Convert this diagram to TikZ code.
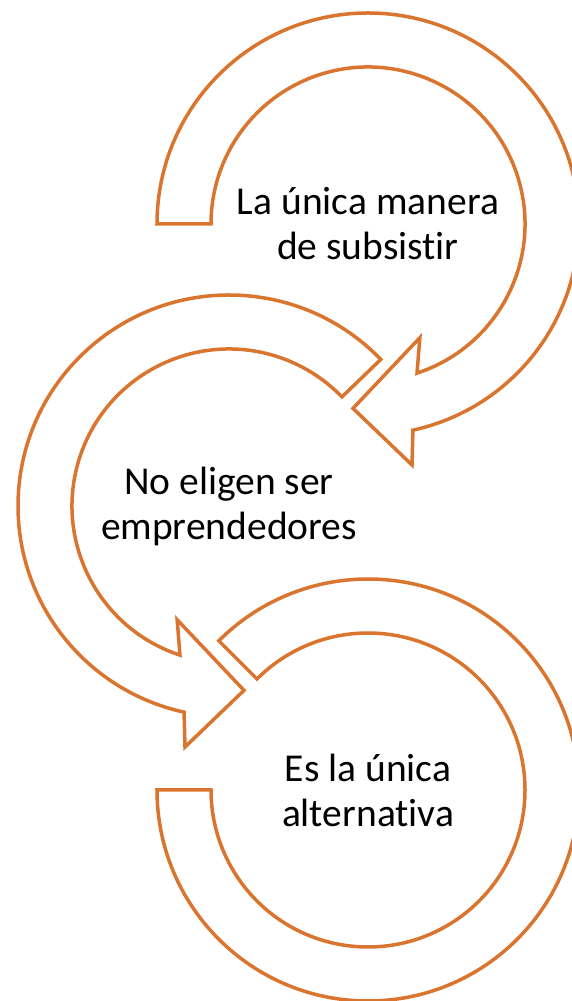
\documentclass[tikz,border=0pt]{standalone}
\usepackage{fontspec}
\setmainfont{Carlito}[Ligatures=NoCommon]
\usepackage{tikz}
\usetikzlibrary{positioning}
\definecolor{arrowOrange}{RGB}{218,117,47}

\begin{document}
\begin{tikzpicture}[x=1pt, y=1pt,
    cyclearrow/.style={draw=arrowOrange, fill=white, line width=3.5pt, line join=miter},
    steptext/.style={align=center, font=\fontsize{39.5}{45}\selectfont, text=black}
  ]
    \useasboundingbox (0,0) rectangle (572,1001);
    \clip (0,0) rectangle (572,1001);

    % Top arrow (clockwise, head bottom left)
    \begin{scope}[shift={(368,777)}]
      \draw[cyclearrow] (180:211) arc[start angle=180, end angle=-77.7, radius=211pt]
        -- (-79.65:245) -- (-94.66:185) -- (-65.5:125) -- (-71.8:157)
        arc[start angle=-71.8, end angle=180, radius=157pt] -- cycle;
      \node[steptext] (Subsistir) at (0,0) {La única manera\\de subsistir};
    \end{scope}

    % Middle arrow (counter clockwise, head bottom right)
    \begin{scope}[shift={(229,495)}]
      \draw[cyclearrow] (44:211) arc[start angle=44, end angle=257.7, radius=211pt]
        -- (259.65:245) -- (274.66:185) -- (245.5:125) -- (251.8:157)
        arc[start angle=251.8, end angle=44, radius=157pt] -- cycle;
      \node[steptext] (Eligen) at (0,0) {No eligen ser\\emprendedores};
    \end{scope}

    % Bottom ring (no head)
    \begin{scope}[shift={(368,211)}]
      \draw[cyclearrow] (180:211) arc[start angle=180, end angle=495, radius=211pt]
        -- (495:157) arc[start angle=495, end angle=180, radius=157pt] -- cycle;
      \node[steptext] (Alternativa) at (0,0) {Es la única\\alternativa};
    \end{scope}

  \end{tikzpicture}
\end{document}
